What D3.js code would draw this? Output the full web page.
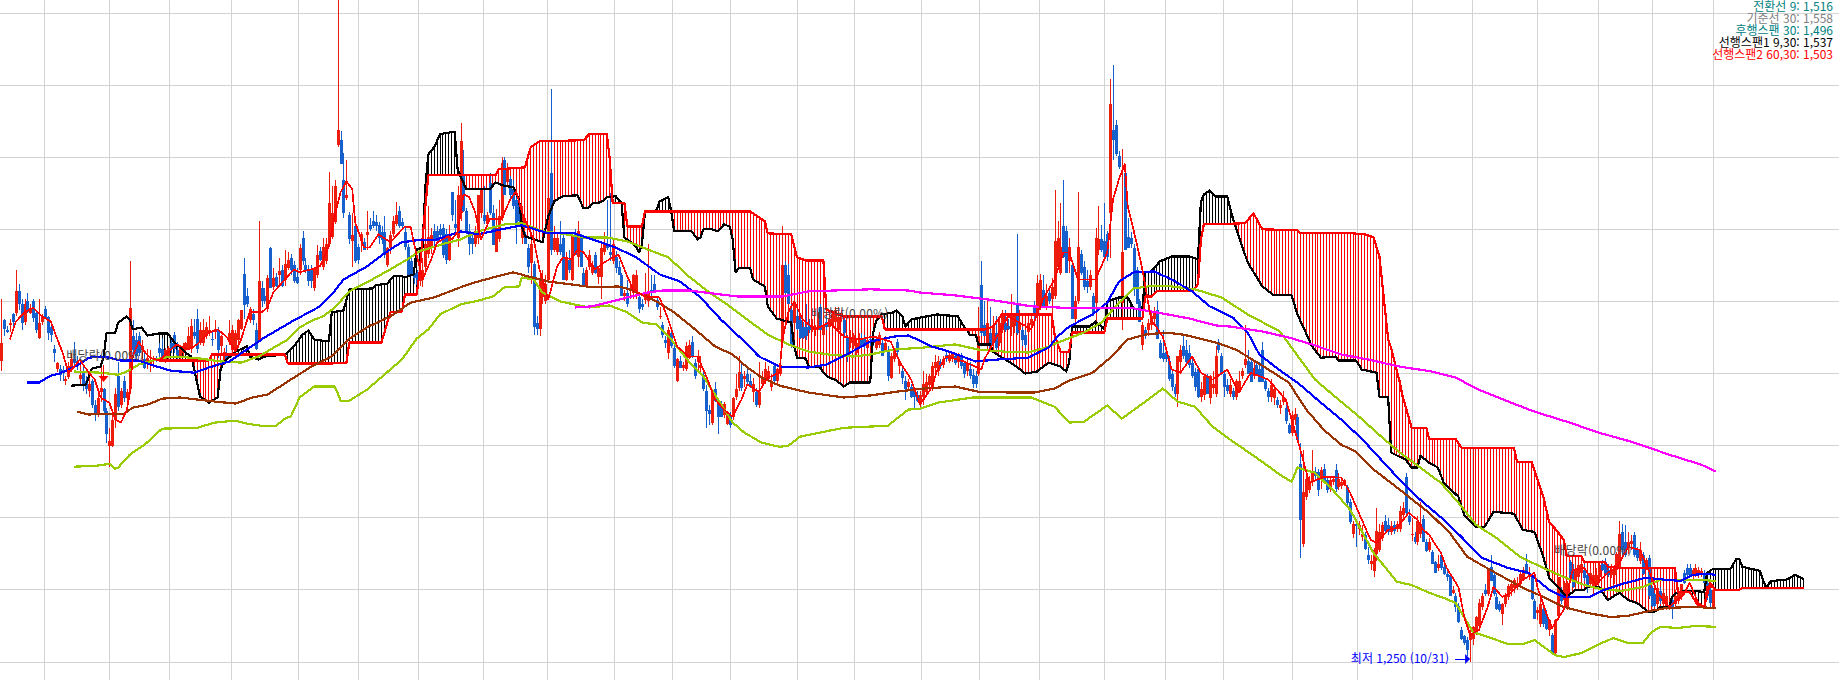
<!DOCTYPE html>
<html lang="ko">
<head>
<meta charset="utf-8">
<title>일목균형표 차트</title>
<script src="https://cdn.jsdelivr.net/npm/d3@7/dist/d3.min.js"></script>
<style>
html,body{margin:0;padding:0;background:#fff;overflow:hidden}
svg{display:block}
text{font-family:"Noto Sans CJK KR","Noto Sans",sans-serif}
</style>
</head>
<body>
<svg id="chart" width="1839" height="680"></svg>
<script>
// ---------- axis ticks (unlabelled grid) ----------
const priceTicks=[1250,1500,1750,2000,2250,2500,2750,3000,3250,3500];
const monthBars=[15,36.9,57.7,78.6,101.5,122.3,142.8,164.7,186.6,209.5,229.3,249.1,272,291.5,314.4,334.2,355,377,397.8,417.6,441.2,463.4,482.2,502.7,524.9,545.8,564.2,585];

// ---------- candles [open, high, low, close], grouped in runs ----------
const runStarts=[0,44,79,112,144,157,167,190,214,234,255,279,298,314,395,425,443,469,495,499,526];
const run00=[[2295,2510,2260,2355],[2435,2440,2380,2405],[2400,2415,2390,2395],[2420,2440,2395,2425],[2455,2460,2415,2430],[2460,2610,2450,2535],[2535,2560,2470,2490],[2490,2510,2400,2425],[2430,2510,2420,2490],[2500,2530,2460,2465],[2460,2490,2455,2477],[2503,2510,2430,2442],[2460,2470,2390,2400],[2373,2510,2370,2425],[2428,2455,2420,2445],[2473,2485,2440,2442],[2445,2450,2365,2390],[2413,2425,2360,2385],[2335,2350,2290,2320],[2265,2290,2255,2285],[2265,2280,2225,2245],[2262,2275,2225,2252],[2225,2240,2210,2232],[2237,2290,2230,2275],[2265,2320,2255,2300],[2300,2360,2275,2285],[2295,2310,2262,2275],[2230,2280,2210,2245],[2255,2275,2190,2210],[2225,2240,2180,2195],[2190,2240,2170,2215],[2225,2230,2130,2140],[2140,2160,2085,2105],[2110,2180,2100,2165],[2185,2285,2150,2200],[2195,2200,2105,2120],[2120,2130,2010,2040],[2000,2060,1925,2015],[2000,2110,1995,2090],[2090,2200,2060,2180],[2240,2290,2120,2135],[2140,2200,2130,2190],[2225,2240,2150,2165],[2165,2195,2150,2185]];
const run01=[[2195,2640,2190,2476],[2380,2435,2310,2330],[2365,2390,2300,2310],[2380,2395,2310,2320],[2330,2365,2295,2345],[2300,2325,2265,2270],[2285,2335,2265,2305],[2280,2330,2255,2295],[2295,2310,2270,2305],[2305,2310,2290,2300],[2340,2355,2295,2320],[2335,2375,2300,2305],[2300,2340,2285,2330],[2310,2345,2300,2340],[2355,2365,2320,2335],[2385,2395,2320,2335],[2330,2360,2290,2305],[2310,2350,2295,2340],[2320,2355,2310,2345],[2335,2360,2325,2355],[2335,2410,2330,2380],[2335,2440,2320,2415],[2395,2440,2370,2380],[2440,2475,2320,2335],[2355,2430,2350,2400],[2355,2440,2345,2400],[2380,2430,2370,2410],[2390,2450,2380,2400],[2370,2395,2345,2365],[2395,2435,2370,2405],[2400,2410,2305,2330],[2345,2385,2320,2380],[2300,2340,2280,2325],[2320,2350,2290,2300],[2360,2435,2350,2390]];
const run02=[[2330,2420,2320,2400],[2330,2400,2320,2390],[2365,2440,2340,2435],[2405,2470,2400,2470],[2595,2650,2440,2487],[2520,2545,2480,2490],[2435,2480,2425,2475],[2455,2475,2420,2435],[2400,2425,2330,2335],[2365,2780,2360,2570],[2545,2570,2480,2500],[2520,2545,2490,2500],[2475,2590,2465,2580],[2685,2690,2545,2545],[2550,2615,2540,2580],[2585,2600,2550,2555],[2590,2650,2560,2605],[2610,2625,2550,2555],[2575,2680,2555,2630],[2615,2670,2610,2645],[2650,2665,2590,2610],[2625,2640,2565,2570],[2585,2615,2560,2565],[2610,2700,2590,2685],[2720,2745,2625,2640],[2625,2650,2600,2605],[2610,2625,2555,2570],[2610,2625,2545,2570],[2545,2610,2535,2615],[2590,2695,2580,2660],[2675,2690,2640,2645],[2620,2720,2610,2690],[2640,2720,2630,2700]];
const run03=[[2700,2950,2690,2840],[2725,2900,2715,2805],[2775,2920,2770,2900],[3042,3550,3035,3093],[3060,3090,2975,2977],[2920,3015,2790,2805],[2860,2990,2850,2870],[2800,2810,2700,2715],[2708,2805,2620,2730],[2760,2770,2635,2640],[2690,2700,2630,2645],[2710,2740,2670,2735],[2707,2720,2680,2680],[2730,2815,2680,2740],[2765,2790,2745,2750],[2780,2815,2755,2760],[2775,2800,2745,2760],[2765,2775,2700,2720],[2740,2760,2700,2712],[2740,2795,2650,2660],[2625,2690,2620,2685],[2685,2745,2665,2730],[2735,2795,2725,2780],[2770,2845,2760,2800],[2815,2830,2755,2760],[2775,2790,2755,2760],[2740,2760,2680,2690],[2690,2700,2590,2590],[2640,2655,2590,2590],[2600,2640,2560,2580],[2597,2610,2555,2557],[2570,2600,2555,2590]];
const run04=[[2575,2650,2550,2610],[2620,2830,2590,2700],[2665,2830,2650,2725],[2685,2755,2665,2730],[2745,2770,2690,2710],[2745,2760,2700,2710],[2750,2770,2720,2730],[2755,2770,2650,2660],[2735,2750,2630,2645],[2645,2765,2640,2735],[2878,2880,2780,2800],[2770,2850,2740,2755],[2720,2900,2690,2870]];
const run05=[[2805,3120,2780,3055],[2935,3025,2810,2815],[2815,2825,2735,2740],[2745,2770,2660,2700],[2720,2735,2665,2700],[2700,2760,2690,2745],[2720,2870,2700,2870],[2805,2885,2790,2885],[2800,2900,2770,2780],[2770,2810,2760,2800]];
const run06=[[2910,2945,2800,2805],[2805,2835,2695,2695],[2672,2820,2670,2755],[2715,2850,2705,2795],[2790,3000,2780,2980],[2990,3000,2870,2870],[2915,2980,2900,2960],[2925,2935,2860,2870],[2890,2920,2820,2830],[2850,2865,2700,2760],[2835,2850,2770,2780],[2720,2830,2700,2800],[2730,2740,2700,2700],[2685,2700,2600,2620],[2635,2730,2560,2700],[2630,2640,2385,2410],[2425,2450,2385,2405],[2405,2600,2380,2575],[2515,2610,2490,2575],[2500,2590,2490,2560],[2575,2860,2570,2860],[2945,3235,2660,2680],[2680,2760,2670,2720]];
const run07=[[2670,2740,2660,2720],[2700,2780,2660,2670],[2720,2730,2575,2575],[2575,2670,2570,2650],[2645,2680,2600,2610],[2575,2740,2570,2730],[2735,2750,2660,2660],[2655,2780,2620,2745],[2720,2735,2620,2620],[2600,2615,2550,2550],[2555,2620,2545,2610],[2620,2680,2610,2660],[2600,2640,2590,2625],[2660,2670,2595,2600],[2585,2620,2560,2615],[2585,2700,2510,2685],[2670,2740,2660,2700],[2700,2850,2680,2685],[2670,2875,2640,2660],[2640,2720,2630,2700],[2655,2675,2600,2615],[2620,2640,2590,2590],[2590,2600,2520,2520],[2520,2540,2500,2530]];
const run08=[[2530,2575,2480,2490],[2535,2560,2510,2545],[2530,2595,2510,2590],[2530,2610,2510,2590],[2515,2530,2460,2475],[2490,2510,2470,2480],[2505,2600,2490,2530],[2500,2700,2480,2535],[2540,2590,2510,2530],[2560,2590,2530,2530],[2505,2520,2470,2480],[2445,2480,2440,2450],[2420,2430,2375,2385],[2365,2380,2340,2355],[2320,2410,2300,2400],[2390,2400,2340,2345],[2340,2350,2270,2275],[2225,2305,2220,2300],[2295,2310,2270,2270],[2270,2290,2260,2280]];
const run09=[[2265,2360,2260,2345],[2305,2365,2300,2350],[2360,2380,2305,2310],[2285,2300,2230,2240],[2290,2330,2260,2310],[2270,2310,2250,2280],[2245,2260,2190,2195],[2190,2210,2060,2120],[2125,2140,2070,2110],[2080,2195,2070,2190],[2195,2220,2150,2155],[2145,2155,2040,2100],[2140,2155,2100,2100],[2105,2150,2095,2145],[2075,2120,2070,2110],[2105,2115,2060,2070],[2100,2170,2090,2165],[2170,2250,2160,2195],[2200,2310,2190,2255],[2250,2290,2190,2200],[2230,2260,2205,2240]];
const run10=[[2250,2265,2215,2220],[2225,2250,2200,2205],[2185,2235,2150,2215],[2185,2200,2135,2140],[2140,2290,2130,2185],[2215,2260,2205,2235],[2225,2290,2215,2265],[2230,2275,2225,2260],[2205,2250,2190,2225],[2275,2285,2215,2225],[2225,2270,2215,2265],[2250,2310,2240,2280],[2355,2760,2340,2625],[2625,2640,2525,2530],[2590,2630,2490,2490],[2470,2490,2340,2345],[2425,2510,2345,2490],[2450,2470,2400,2405],[2435,2460,2370,2375],[2410,2430,2370,2375],[2410,2490,2365,2380],[2420,2440,2390,2400],[2400,2440,2395,2415],[2400,2420,2380,2410]];
const run11=[[2420,2460,2400,2445],[2480,2490,2400,2400],[2385,2480,2340,2420],[2430,2450,2400,2410],[2410,2450,2395,2440],[2420,2470,2410,2455],[2430,2480,2425,2470],[2400,2480,2385,2445],[2450,2470,2430,2460],[2435,2450,2375,2390],[2375,2385,2290,2310],[2355,2400,2340,2375],[2345,2390,2335,2385],[2320,2365,2310,2355],[2345,2390,2335,2370],[2370,2390,2340,2345],[2370,2385,2335,2345],[2340,2380,2335,2365],[2370,2385,2345,2365]];
const run12=[[2370,2385,2345,2355],[2340,2380,2330,2370],[2350,2395,2340,2385],[2355,2365,2310,2310],[2330,2380,2325,2355],[2330,2345,2225,2240],[2235,2320,2230,2310],[2300,2340,2290,2330],[2360,2370,2310,2325],[2275,2300,2250,2295],[2260,2275,2215,2235],[2225,2240,2160,2195],[2205,2230,2195,2220],[2205,2215,2165,2170],[2190,2200,2130,2170],[2175,2190,2150,2155]];
const run13=[[2145,2190,2130,2175],[2170,2260,2140,2215],[2185,2250,2175,2220],[2210,2250,2190,2240],[2205,2290,2190,2275],[2270,2315,2250,2290],[2260,2310,2240,2295],[2290,2300,2265,2275],[2280,2310,2270,2300],[2315,2325,2290,2300],[2295,2325,2285,2315],[2300,2325,2290,2320],[2310,2320,2280,2285],[2290,2320,2270,2310],[2315,2320,2265,2275],[2285,2290,2235,2250],[2260,2300,2240,2285],[2265,2290,2230,2240],[2245,2265,2200,2215],[2240,2260,2200,2215],[2250,2480,2240,2380],[2557,2640,2380,2390],[2420,2500,2380,2380],[2345,2510,2335,2425],[2390,2480,2330,2330],[2355,2450,2340,2420],[2390,2450,2325,2340],[2355,2440,2345,2425],[2400,2470,2390,2450],[2425,2470,2395,2400],[2415,2440,2400,2405],[2410,2525,2380,2455],[2415,2460,2390,2450],[2495,2735,2385,2390],[2400,2470,2385,2425],[2400,2410,2345,2365],[2385,2400,2340,2350],[2395,2440,2375,2425],[2420,2450,2400,2440],[2480,2500,2440,2460],[2450,2590,2440,2565],[2480,2595,2470,2575],[2540,2590,2480,2480],[2480,2560,2470,2520],[2530,2545,2490,2500],[2510,2580,2440,2550],[2520,2885,2510,2710],[2620,2780,2610,2720],[2600,2840,2590,2690],[2760,2920,2650,2655],[2745,2760,2600,2600],[2640,2720,2600,2690],[2625,2635,2440,2440],[2440,2520,2430,2500],[2500,2880,2490,2690],[2665,2680,2590,2600],[2620,2640,2540,2550],[2570,2610,2530,2550],[2550,2610,2540,2590],[2520,2530,2450,2460],[2495,2755,2430,2720],[2680,2830,2660,2715],[2715,2765,2670,2680],[2710,2840,2640,2655],[2735,2745,2640,2655],[2805,3270,2650,3185],[3095,3320,2990,3060],[3110,3130,3005,3010],[3005,3020,2960,2965],[2495,3030,2400,2670],[2945,2955,2680,2680],[2725,2790,2685,2685],[2720,2740,2685,2700],[2685,2700,2520,2545],[2610,2620,2490,2490],[2500,2510,2430,2430],[2350,2430,2330,2420],[2400,2410,2370,2380],[2400,2440,2380,2425],[2420,2460,2400,2450],[2440,2480,2420,2460]];
const run14=[[2470,2500,2370,2370],[2355,2365,2300,2305],[2320,2400,2290,2300],[2325,2340,2290,2300],[2295,2310,2225,2230],[2250,2260,2190,2205],[2205,2215,2170,2180],[2180,2310,2135,2310],[2290,2350,2260,2330],[2345,2385,2300,2310],[2330,2365,2285,2290],[2320,2350,2270,2280],[2285,2310,2235,2240],[2255,2270,2190,2205],[2265,2275,2165,2170],[2170,2220,2150,2195],[2175,2240,2160,2240],[2240,2250,2180,2180],[2165,2245,2145,2240],[2200,2260,2180,2215],[2180,2345,2170,2310],[2360,2370,2320,2330],[2310,2320,2245,2250],[2250,2260,2170,2205],[2210,2230,2180,2190],[2180,2230,2170,2210],[2190,2200,2160,2170],[2170,2230,2160,2225],[2190,2260,2185,2225],[2240,2270,2230,2260]];
const run15=[[2280,2420,2270,2300],[2295,2330,2250,2250],[2290,2300,2220,2220],[2240,2290,2230,2270],[2280,2290,2240,2250],[2265,2290,2220,2220],[2330,2360,2220,2220],[2225,2235,2190,2195],[2190,2200,2150,2170],[2170,2230,2150,2210],[2165,2200,2140,2195],[2160,2170,2130,2140],[2130,2160,2110,2140],[2150,2190,2140,2170],[2130,2140,2075,2085],[2070,2080,2040,2045],[2045,2120,2035,2105],[2090,2130,2070,2110]];
const run16=[[2100,2110,2010,2020],[1937,2010,1610,1741],[1660,1984,1650,1839],[1822,1900,1810,1885],[1845,1895,1835,1875],[1875,1985,1860,1908],[1908,1925,1880,1895],[1908,1920,1825,1845],[1880,1925,1850,1914],[1920,1935,1870,1875],[1880,1890,1835,1847],[1850,1890,1840,1882],[1875,1895,1865,1885],[1917,1938,1840,1850],[1856,1905,1845,1885],[1860,1890,1850,1875],[1865,1885,1860,1880],[1855,1865,1790,1800],[1805,1815,1730,1735],[1695,1740,1680,1730],[1730,1745,1650,1720],[1710,1740,1690,1725],[1685,1725,1670,1695],[1690,1700,1640,1642],[1620,1650,1590,1605],[1590,1620,1570,1600]];
const run17=[[1565,1645,1545,1640],[1625,1785,1600,1705],[1640,1730,1630,1700],[1680,1735,1670,1725],[1740,1760,1695,1705],[1725,1750,1690,1700],[1700,1740,1690,1720],[1725,1740,1695,1705],[1710,1740,1700,1730],[1710,1790,1700,1775],[1760,1805,1745,1785],[1890,1905,1760,1765],[1755,1780,1725,1735],[1690,1750,1670,1695],[1685,1700,1660,1665],[1665,1755,1655,1740],[1695,1805,1680,1730],[1745,1760,1665,1665],[1665,1675,1630,1635],[1640,1680,1630,1665],[1630,1640,1590,1590],[1595,1600,1560,1560],[1575,1620,1565,1590],[1620,1630,1570,1575],[1580,1585,1550,1555],[1555,1565,1530,1545]];
const run18=[[1550,1560,1480,1480],[1490,1515,1485,1500],[1480,1490,1425,1440],[1445,1455,1385,1388]];
const run19=[[1360,1370,1325,1330],[1340,1345,1310,1315],[1325,1335,1270,1290],[1325,1360,1250,1352],[1330,1375,1310,1370],[1355,1410,1345,1405],[1375,1470,1365,1455],[1440,1490,1430,1480],[1500,1520,1480,1485],[1485,1575,1480,1570],[1580,1620,1530,1530],[1550,1565,1480,1485],[1475,1490,1430,1435],[1450,1460,1425,1430],[1415,1455,1380,1450],[1450,1490,1440,1480],[1475,1520,1465,1515],[1495,1530,1480,1520],[1505,1540,1490,1535],[1510,1545,1500,1525],[1520,1565,1510,1555],[1535,1580,1530,1570],[1590,1625,1555,1555],[1545,1580,1535,1555],[1545,1555,1465,1470],[1460,1470,1400,1400],[1420,1440,1395,1430]];
const run20=[[1382,1490,1370,1450],[1435,1450,1370,1382],[1415,1430,1360,1365],[1360,1400,1340,1395],[1345,1350,1275,1278],[1280,1400,1275,1395],[1410,1545,1400,1545],[1495,1510,1450,1460],[1465,1530,1455,1525],[1440,1530,1430,1525],[1595,1605,1530,1535],[1570,1590,1505,1510],[1530,1600,1500,1570],[1545,1610,1535,1585],[1560,1605,1550,1590],[1570,1590,1530,1540],[1550,1560,1490,1510],[1520,1575,1510,1560],[1505,1570,1480,1550],[1520,1575,1505,1550],[1545,1600,1530,1585],[1590,1605,1565,1570],[1595,1610,1555,1560],[1570,1590,1545,1550],[1550,1590,1540,1570],[1550,1585,1520,1580],[1570,1630,1560,1625],[1580,1740,1570,1695],[1700,1730,1620,1640],[1665,1725,1615,1620],[1645,1700,1625,1665],[1660,1690,1640,1670],[1690,1700,1615,1620],[1640,1650,1600,1610],[1600,1665,1590,1640],[1620,1630,1550,1555],[1580,1610,1570,1605],[1610,1620,1470,1480],[1505,1515,1440,1445],[1485,1490,1440,1445],[1450,1520,1440,1505],[1495,1510,1450,1460],[1450,1510,1440,1490],[1440,1490,1430,1480],[1440,1460,1430,1445],[1465,1480,1400,1435],[1450,1500,1440,1480],[1460,1510,1450,1495],[1475,1520,1465,1520],[1560,1570,1520,1525],[1575,1590,1545,1550],[1575,1590,1545,1550],[1550,1575,1535,1570],[1555,1590,1545,1575],[1555,1580,1540,1570],[1550,1575,1545,1565],[1560,1570,1520,1525],[1525,1535,1465,1480],[1500,1510,1440,1455],[1440,1510,1435,1500]];
const candleRuns=[run00,run01,run02,run03,run04,run05,run06,run07,run08,run09,run10,run11,run12,run13,run14,run15,run16,run17,run18,run19,run20];

// ---------- indicator series [bar, price] ----------
const maBlue=[[9,2219],[13,2219],[17,2243],[20,2250],[26,2278],[30,2305],[34,2309],[37,2305],[41,2295],[47,2295],[51,2281],[58,2260],[66,2253],[71,2271],[78,2292],[90,2375],[100,2434],[109,2483],[113,2524],[117,2576],[125,2621],[131,2667],[134,2687],[137,2705],[142,2712],[148,2712],[157,2743],[163,2733],[171,2750],[178,2764],[187,2736],[196,2736],[202,2715],[210,2687],[217,2653],[225,2594],[232,2569],[239,2514],[246,2437],[254,2361],[259,2309],[266,2274],[276,2271],[282,2281],[289,2316],[297,2361],[305,2378],[310,2382],[314,2364],[318,2344],[324,2326],[333,2292],[341,2299],[351,2305],[358,2340],[361,2378],[365,2413],[373,2455],[378,2496],[382,2569],[387,2601],[394,2604],[400,2576],[407,2535],[413,2483],[421,2444],[426,2392],[430,2316],[438,2253],[443,2219],[451,2149],[458,2090],[465,2024],[470,1969],[477,1892],[485,1812],[493,1743],[499,1684],[506,1611],[515,1576],[522,1559],[529,1500],[534,1476],[543,1476],[547,1497],[554,1521],[562,1542],[569,1535],[574,1531],[578,1552],[583,1556],[586,1552]];
const envUpper=[[25,2257],[34,2253],[40,2246],[43,2257],[47,2281],[55,2305],[60,2309],[68,2302],[75,2292],[82,2288],[88,2309],[92,2333],[98,2368],[102,2410],[107,2437],[110,2448],[114,2479],[119,2535],[125,2566],[133,2611],[140,2653],[143,2674],[153,2705],[157,2715],[163,2743],[172,2767],[178,2771],[185,2743],[191,2736],[199,2722],[207,2722],[214,2708],[221,2680],[228,2653],[235,2587],[242,2531],[249,2483],[255,2437],[262,2385],[269,2351],[276,2326],[283,2316],[291,2309],[297,2316],[305,2333],[315,2340],[326,2351],[334,2333],[343,2326],[351,2323],[357,2340],[362,2361],[370,2392],[376,2427],[382,2496],[387,2545],[394,2555],[400,2552],[408,2542],[417,2514],[426,2455],[437,2396],[442,2326],[449,2229],[457,2160],[464,2101],[472,2028],[478,1976],[485,1924],[492,1871],[498,1802],[504,1726],[511,1680],[519,1615],[527,1576],[534,1545],[541,1517],[548,1500],[554,1497],[561,1510],[567,1535],[574,1535],[580,1535],[586,1531]];
const maBrown=[[26,2118],[30,2108],[37,2111],[42,2111],[45,2132],[50,2142],[55,2163],[61,2167],[67,2160],[73,2153],[80,2146],[86,2167],[91,2177],[99,2229],[106,2274],[113,2309],[119,2371],[125,2410],[133,2448],[140,2496],[148,2514],[157,2549],[162,2566],[168,2583],[175,2601],[180,2587],[187,2569],[195,2559],[202,2549],[211,2552],[216,2538],[224,2500],[230,2462],[236,2413],[244,2344],[250,2316],[255,2271],[260,2236],[266,2208],[276,2184],[288,2167],[297,2174],[306,2187],[315,2198],[326,2205],[334,2187],[346,2184],[353,2184],[360,2198],[365,2226],[373,2253],[379,2305],[385,2368],[391,2385],[398,2392],[404,2385],[415,2358],[422,2333],[432,2271],[440,2219],[446,2125],[452,2055],[458,2003],[463,1979],[469,1917],[475,1871],[481,1823],[488,1767],[495,1698],[501,1615],[507,1580],[515,1535],[520,1507],[527,1476],[534,1441],[542,1420],[550,1406],[556,1410],[562,1424],[569,1437],[578,1441],[586,1437]];
const envLower=[[25,1927],[33,1931],[37,1937],[39,1920],[40,1924],[44,1969],[49,2003],[55,2059],[67,2062],[73,2080],[80,2087],[84,2076],[89,2069],[94,2069],[97,2094],[99,2101],[102,2167],[107,2205],[114,2205],[115,2184],[116,2156],[119,2156],[125,2194],[137,2299],[142,2371],[146,2403],[150,2455],[157,2490],[162,2500],[168,2517],[172,2549],[177,2552],[178,2583],[182,2576],[185,2531],[191,2500],[201,2479],[208,2486],[214,2462],[219,2427],[224,2420],[229,2368],[235,2292],[240,2240],[245,2160],[250,2080],[254,2045],[260,2010],[266,1996],[269,2000],[273,2031],[283,2052],[288,2062],[303,2069],[310,2125],[314,2128],[320,2149],[332,2167],[352,2167],[360,2135],[365,2080],[370,2083],[378,2139],[383,2094],[392,2160],[397,2198],[402,2153],[408,2135],[414,2066],[420,2021],[431,1944],[437,1899],[441,1875],[443,1924],[449,1906],[455,1847],[461,1778],[469,1628],[477,1528],[482,1517],[488,1490],[493,1472],[497,1455],[503,1354],[510,1330],[515,1312],[520,1312],[524,1326],[531,1274],[534,1267],[540,1281],[547,1316],[551,1333],[556,1316],[561,1316],[564,1354],[567,1372],[573,1368],[579,1375],[586,1372]];
const maMagenta=[[196,2479],[202,2483],[206,2493],[214,2514],[221,2531],[226,2538],[235,2538],[246,2524],[252,2517],[267,2517],[276,2535],[285,2538],[297,2542],[310,2538],[314,2531],[326,2521],[337,2507],[346,2493],[352,2483],[368,2476],[387,2476],[397,2458],[406,2441],[415,2417],[420,2413],[431,2396],[440,2375],[448,2351],[458,2316],[467,2299],[478,2274],[489,2257],[497,2236],[505,2194],[515,2153],[524,2118],[536,2080],[546,2045],[557,2014],[570,1969],[581,1934],[586,1910]];
const maRed=[[3,2368],[5,2430],[8,2462],[11,2479],[14,2448],[17,2430],[19,2375],[21,2323],[23,2253],[25,2274],[27,2299],[28,2281],[30,2253],[32,2229],[34,2167],[37,2149],[39,2090],[41,2080],[43,2125],[44,2184],[45,2309],[47,2361],[49,2326],[51,2305],[54,2295],[58,2333],[60,2351],[64,2333],[67,2351],[71,2392],[74,2403],[77,2378],[80,2326],[82,2368],[85,2465],[89,2462],[91,2479],[93,2531],[97,2576],[100,2611],[102,2601],[106,2611],[109,2622],[112,2691],[114,2795],[116,2878],[118,2917],[120,2889],[121,2774],[124,2687],[126,2687],[129,2733],[133,2705],[138,2760],[140,2757],[141,2705],[144,2576],[147,2646],[149,2705],[153,2726],[154,2715],[156,2740],[158,2871],[160,2861],[162,2809],[164,2715],[167,2785],[171,2785],[174,2854],[176,2882],[178,2809],[182,2715],[184,2611],[187,2507],[190,2622],[192,2653],[195,2646],[197,2680],[199,2670],[203,2611],[206,2635],[211,2663],[214,2587],[216,2542],[220,2517],[225,2514],[228,2437],[231,2344],[235,2309],[238,2309],[241,2240],[244,2160],[247,2125],[250,2101],[253,2160],[255,2212],[259,2187],[262,2236],[266,2253],[267,2368],[269,2462],[271,2500],[274,2437],[278,2403],[283,2427],[288,2378],[293,2368],[298,2378],[304,2361],[307,2292],[311,2229],[314,2142],[318,2201],[320,2264],[323,2309],[329,2292],[335,2264],[336,2299],[341,2392],[344,2448],[348,2427],[352,2403],[356,2507],[360,2576],[363,2670],[365,2670],[368,2576],[374,2576],[378,2670],[380,2854],[382,2924],[384,2976],[385,2830],[388,2705],[390,2611],[393,2437],[397,2378],[400,2264],[403,2253],[407,2309],[410,2253],[414,2229],[419,2264],[423,2184],[427,2253],[433,2229],[439,2160],[443,2021],[444,1986],[447,1871],[452,1892],[458,1889],[461,1837],[465,1743],[468,1674],[470,1663],[474,1708],[477,1715],[481,1767],[484,1743],[486,1708],[488,1691],[492,1628],[494,1576],[498,1510],[500,1406],[502,1344],[505,1361],[508,1441],[510,1510],[513,1476],[516,1490],[520,1535],[524,1559],[525,1510],[528,1420],[530,1368],[534,1431],[537,1569],[541,1576],[545,1517],[549,1559],[552,1576],[556,1649],[560,1639],[563,1569],[566,1490],[570,1441],[575,1483],[577,1524],[580,1455],[582,1441],[583,1510],[585,1510],[586,1500]];
const spanBlack=[[24,2208],[29,2212],[30,2240],[31,2267],[34,2274],[35,2305],[36,2389],[39,2392],[40,2427],[43,2448],[44,2437],[45,2403],[48,2410],[50,2382],[54,2389],[57,2389],[59,2361],[63,2323],[65,2309],[66,2264],[68,2170],[71,2149],[74,2167],[75,2264],[76,2288],[80,2326],[84,2344],[85,2309],[88,2299],[90,2309],[97,2316],[100,2344],[103,2385],[105,2399],[107,2368],[112,2361],[113,2462],[117,2469],[119,2542],[127,2545],[128,2556],[132,2562],[134,2587],[137,2587],[138,2583],[141,2594],[142,2680],[144,2687],[145,2899],[146,3010],[148,3035],[150,3080],[154,3087],[155,3087],[156,2958],[157,2934],[159,2889],[167,2889],[169,2913],[171,2903],[175,2896],[177,2854],[178,2760],[179,2726],[185,2705],[187,2795],[189,2847],[192,2865],[197,2868],[199,2823],[201,2826],[202,2840],[205,2844],[207,2861],[210,2865],[212,2844],[213,2722],[217,2691],[218,2670],[219,2698],[220,2809],[224,2816],[225,2847],[228,2861],[229,2812],[230,2743],[236,2743],[238,2715],[239,2722],[240,2750],[243,2750],[245,2743],[247,2767],[249,2760],[250,2715],[251,2601],[252,2615],[256,2615],[257,2576],[261,2552],[262,2483],[265,2441],[270,2427],[271,2344],[272,2305],[275,2302],[276,2274],[280,2271],[281,2253],[283,2236],[285,2229],[288,2205],[290,2219],[297,2219],[298,2392],[299,2431],[301,2455],[305,2462],[306,2469],[308,2448],[309,2413],[311,2437],[314,2444],[320,2455],[327,2448],[329,2413],[330,2403],[331,2385],[333,2385],[334,2351],[338,2351],[339,2326],[343,2299],[346,2281],[350,2250],[354,2257],[358,2288],[362,2274],[364,2257],[365,2288],[366,2413],[372,2413],[374,2431],[377,2403],[378,2500],[382,2514],[385,2514],[387,2476],[390,2472],[391,2601],[393,2604],[396,2639],[400,2656],[406,2656],[409,2646],[410,2844],[411,2871],[413,2885],[415,2864],[419,2864],[421,2785],[426,2635],[431,2552],[435,2521],[441,2521],[443,2455],[448,2344],[451,2305],[456,2309],[457,2295],[463,2295],[465,2264],[470,2253],[471,2170],[474,2167],[475,1976],[480,1951],[482,1924],[484,1924],[485,1965],[488,1941],[491,1924],[493,1871],[498,1823],[500,1760],[504,1719],[507,1719],[510,1771],[517,1764],[520,1708],[524,1701],[527,1615],[529,1542],[532,1510],[535,1476],[538,1500],[541,1500],[542,1510],[546,1510],[549,1465],[553,1490],[556,1465],[559,1455],[563,1424],[565,1424],[567,1441],[570,1441],[571,1476],[573,1493],[578,1497],[582,1493],[583,1559],[585,1573],[591,1573],[593,1608],[594,1608],[595,1580],[601,1566],[603,1510],[605,1531],[610,1535],[613,1552],[616,1538]];
const spanRed=[[54,2295],[71,2295],[72,2316],[97,2316],[98,2285],[113,2285],[118,2288],[119,2358],[130,2358],[133,2462],[137,2465],[138,2524],[142,2524],[143,2600],[145,2830],[146,2937],[169,2937],[170,2958],[179,2965],[181,3035],[184,3055],[199,3059],[201,3080],[207,3080],[208,2993],[209,2840],[213,2840],[214,2760],[219,2760],[220,2812],[256,2812],[261,2778],[262,2736],[270,2733],[272,2653],[275,2642],[281,2642],[282,2472],[288,2448],[301,2448],[302,2403],[336,2403],[339,2413],[342,2455],[359,2455],[360,2385],[362,2326],[365,2326],[366,2392],[377,2392],[378,2441],[390,2441],[391,2517],[393,2517],[395,2535],[407,2535],[409,2559],[410,2715],[411,2767],[425,2771],[428,2805],[431,2750],[443,2747],[444,2736],[462,2736],[466,2733],[469,2722],[471,2656],[474,2368],[475,2340],[478,2219],[479,2167],[480,2135],[482,2062],[487,2062],[488,2024],[497,2024],[499,1993],[517,1993],[518,1944],[523,1944],[525,1882],[527,1823],[529,1736],[532,1701],[534,1674],[535,1618],[540,1618],[541,1597],[548,1597],[549,1580],[553,1576],[572,1576],[573,1493],[577,1493],[580,1444],[582,1441],[584,1524],[586,1500],[594,1500],[595,1507],[616,1507]];

// ---------- text ----------
const legendLabels=["전환선 9: 1,516","기준선 30: 1,558","후행스팬 30: 1,496","선행스팬1 9,30: 1,537","선행스팬2 60,30: 1,503"];
const legendColors=["#008080","#808080","#008080","#000000","#ff0000"];
const dividendNotes=[{bar:35.5,price:2298,text:"배당락(0.00%)"},{bar:290,price:2441,text:"배당락(0.00%)"},{bar:544,price:1621,text:"배당락(0.00%)"}];
const lowNote={bar:502,price:1250,text:"최저 1,250 (10/31)"};
const dividendMarkerBar=35, dividendMarkerPrice=[2280,2235];

// ---------- scales ----------
const W=1839,H=680;
const x=d3.scaleLinear().domain([0,585]).range([1.1,1713]);
const y=d3.scaleLinear().domain([1250,3500]).range([662,13]);
const svg=d3.select("#chart");

// grid
const grid=svg.append("g").attr("shape-rendering","crispEdges").attr("stroke","#d3d3d3");
grid.selectAll("line.h").data(priceTicks).join("line").attr("class","h")
  .attr("x1",0).attr("x2",W).attr("y1",d=>y(d)).attr("y2",d=>y(d));
grid.selectAll("line.v").data(monthBars).join("line").attr("class","v")
  .attr("y1",0).attr("y2",H).attr("x1",d=>x(d)).attr("x2",d=>x(d));

// cloud hatch
const toScale=s=>d3.scaleLinear().domain(s.map(d=>d[0])).range(s.map(d=>d[1]));
const blackAt=toScale(spanBlack), redAt=toScale(spanRed);
const hatchBars=d3.range(54,617);
svg.append("g").attr("shape-rendering","crispEdges").selectAll("line").data(hatchBars).join("line")
  .attr("x1",d=>x(d)).attr("x2",d=>x(d))
  .attr("y1",d=>y(blackAt(d))).attr("y2",d=>y(redAt(d)))
  .attr("stroke",d=>redAt(d)>blackAt(d)?"#ff0000":"#000000").attr("stroke-width",1);

// candles
const candles=candleRuns.flatMap((run,r)=>run.map((c,i)=>({bar:runStarts[r]+i,o:c[0],h:c[1],l:c[2],c:c[3]})));
const RED="#ee1c0c",BLUE="#1560cc";
const cg=svg.append("g").attr("shape-rendering","crispEdges");
cg.selectAll("line").data(candles).join("line")
  .attr("x1",d=>Math.round(x(d.bar))+.5).attr("x2",d=>Math.round(x(d.bar))+.5)
  .attr("y1",d=>y(d.h)).attr("y2",d=>y(d.l))
  .attr("stroke",d=>d.c>=d.o?RED:BLUE);
cg.selectAll("rect").data(candles).join("rect")
  .attr("x",d=>Math.round(x(d.bar))-1).attr("width",3)
  .attr("y",d=>y(Math.max(d.o,d.c))).attr("height",d=>Math.max(1,Math.abs(y(d.o)-y(d.c))))
  .attr("fill",d=>d.c>=d.o?RED:BLUE);

// lines
const lineGen=d3.line().x(d=>x(d[0])).y(d=>y(d[1]));
const series=[[spanBlack,"#000000",2.2],[spanRed,"#ff0000",2.2],[envUpper,"#99cc00",2.2],[envLower,"#99cc00",2.2],[maBrown,"#993300",2.2],[maBlue,"#0000ff",2.2],[maMagenta,"#ff00ff",2.2],[maRed,"#ff0000",1.7]];
svg.append("g").selectAll("path").data(series).join("path")
  .attr("d",d=>lineGen(d[0])).attr("fill","none").attr("stroke",d=>d[1])
  .attr("stroke-width",d=>d[2]).attr("stroke-linejoin","round").attr("shape-rendering","crispEdges");

// dividend marker
const mx=x(dividendMarkerBar);
svg.append("line").attr("x1",mx).attr("x2",mx).attr("y1",y(dividendMarkerPrice[0])).attr("y2",y(dividendMarkerPrice[1])).attr("stroke","#ff0000").attr("shape-rendering","crispEdges");
svg.append("path").attr("transform",`translate(${mx},${y(dividendMarkerPrice[1])})`).attr("d",d3.line()([[-5,-2],[5,-2],[0,4]])).attr("fill","#ff0000");

// notes
svg.append("g").selectAll("text").data(dividendNotes).join("text")
  .attr("x",d=>x(d.bar)).attr("y",d=>y(d.price)).attr("font-size",12).attr("fill","#444").attr("text-anchor","middle").attr("letter-spacing",.2).text(d=>d.text);
const lx=x(lowNote.bar),ly=y(lowNote.price);
svg.append("text").attr("x",lx-21).attr("y",ly+1).attr("text-anchor","end").attr("font-size",12).attr("fill","#0000ff").text(lowNote.text);
svg.append("line").attr("x1",lx-15).attr("x2",lx-4).attr("y1",ly-3).attr("y2",ly-3).attr("stroke","#0000ff").attr("shape-rendering","crispEdges");
svg.append("path").attr("transform",`translate(${lx},${ly-3})`).attr("d",d3.line()([[-5,-5],[0,0],[-5,5]])).attr("fill","#0000ff");

// legend
svg.append("g").selectAll("text").data(legendLabels).join("text")
  .attr("x",1833).attr("y",(d,i)=>11+i*12.1).attr("text-anchor","end").attr("font-size",12)
  .attr("fill",(d,i)=>legendColors[i]).text(d=>d);
</script>
</body>
</html>
